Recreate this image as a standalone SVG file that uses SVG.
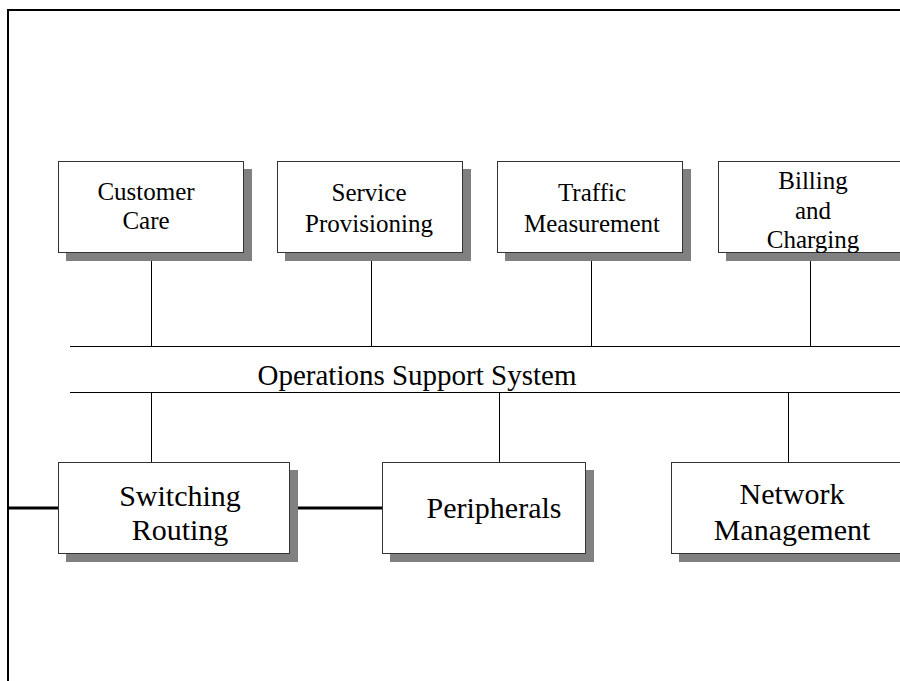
<svg xmlns="http://www.w3.org/2000/svg" width="900" height="681" viewBox="0 0 900 681">
  <style>
    .box { fill: #ffffff; stroke: #333333; stroke-width: 1; }
    .shadow { fill: #808080; }
    .thin { stroke: #000000; stroke-width: 1; fill: none; }
    .thick { stroke: #000000; stroke-width: 3; fill: none; }
    .frame { stroke: #000000; stroke-width: 2; fill: none; }
    .s { font-family: "Liberation Serif", "Times New Roman", serif; font-size: 25px; text-anchor: middle; fill: #000; }
    .m { font-family: "Liberation Serif", "Times New Roman", serif; font-size: 30px; text-anchor: middle; fill: #000; }
    .bus { font-family: "Liberation Serif", "Times New Roman", serif; font-size: 29px; text-anchor: middle; fill: #000; }
  </style>

  <!-- page frame -->
  <path class="frame" d="M900,10 H8 V681"/>

  <g id="connectors">
    <!-- OSS bus -->
    <line class="thin" x1="70" y1="346.5" x2="900" y2="346.5"/>
    <line class="thin" x1="70" y1="392.5" x2="900" y2="392.5"/>
    <!-- upper drops -->
    <line class="thin" x1="151.5" y1="253" x2="151.5" y2="346"/>
    <line class="thin" x1="371.5" y1="253" x2="371.5" y2="346"/>
    <line class="thin" x1="591.5" y1="253" x2="591.5" y2="346"/>
    <line class="thin" x1="810.5" y1="253" x2="810.5" y2="346"/>
    <!-- lower drops -->
    <line class="thin" x1="151.5" y1="393" x2="151.5" y2="462"/>
    <line class="thin" x1="499.5" y1="393" x2="499.5" y2="462"/>
    <line class="thin" x1="788.5" y1="393" x2="788.5" y2="462"/>
    <!-- transport links -->
    <line class="thick" x1="8" y1="508" x2="58" y2="508"/>
    <line class="thick" x1="290" y1="508" x2="382" y2="508"/>
  </g>

  <text class="bus" x="417" y="385">Operations Support System</text>

  <g id="customer-care">
    <rect class="shadow" x="66" y="169" width="186" height="92"/>
    <rect class="box" x="58.5" y="161.5" width="185" height="91"/>
    <text class="s" x="146" y="200">Customer</text>
    <text class="s" x="146" y="229">Care</text>
  </g>

  <g id="service-provisioning">
    <rect class="shadow" x="285" y="169" width="186" height="92"/>
    <rect class="box" x="277.5" y="161.5" width="185" height="91"/>
    <text class="s" x="369" y="201">Service</text>
    <text class="s" x="369" y="232">Provisioning</text>
  </g>

  <g id="traffic-measurement">
    <rect class="shadow" x="505" y="169" width="186" height="92"/>
    <rect class="box" x="497.5" y="161.5" width="185" height="91"/>
    <text class="s" x="592" y="201">Traffic</text>
    <text class="s" x="592" y="232">Measurement</text>
  </g>

  <g id="billing-charging">
    <rect class="shadow" x="726" y="169" width="190" height="92"/>
    <rect class="box" x="718.5" y="161.5" width="190" height="91"/>
    <text class="s" x="813" y="189">Billing</text>
    <text class="s" x="813" y="219">and</text>
    <text class="s" x="813" y="248">Charging</text>
  </g>

  <g id="switching-routing">
    <rect class="shadow" x="66" y="470" width="232" height="92"/>
    <rect class="box" x="58.5" y="462.5" width="231" height="91"/>
    <text class="m" x="180" y="506">Switching</text>
    <text class="m" x="180" y="540">Routing</text>
  </g>

  <g id="peripherals">
    <rect class="shadow" x="390" y="470" width="204" height="92"/>
    <rect class="box" x="382.5" y="462.5" width="203" height="91"/>
    <text class="m" x="494" y="518">Peripherals</text>
  </g>

  <g id="network-management">
    <rect class="shadow" x="679" y="470" width="240" height="92"/>
    <rect class="box" x="671.5" y="462.5" width="240" height="91"/>
    <text class="m" x="792" y="504">Network</text>
    <text class="m" x="792" y="540">Management</text>
  </g>
</svg>
